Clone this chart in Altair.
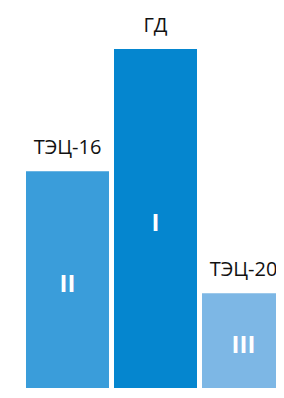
import altair as alt
import pandas as pd

names = ["ТЭЦ-16", "ГД", "ТЭЦ-20"]
values = [65, 100, 30]
ranks = ["II", "I", "III"]
colors = ["#3A9DDA", "#0586CF", "#7DB7E5"]

df = pd.DataFrame({"name": names, "value": values, "rank": ranks, "color": colors})

x = alt.X("name:N", sort=names, axis=None,
          scale=alt.Scale(range=[0, 295], paddingInner=0.0568, paddingOuter=0.2045))
y_scale = alt.Scale(domain=[0, 111.75], nice=False, zero=True, range=[390, 0])

base = alt.Chart(df).encode(x=x)

bars = base.mark_bar(cornerRadius=0).encode(
    y=alt.Y("value:Q", scale=y_scale, axis=None),
    color=alt.Color("color:N", scale=None, legend=None),
)

top_labels = base.mark_text(
    baseline="alphabetic", dy=-17, fontSize=20, font="Open Sans", color="#111111"
).encode(
    y=alt.Y("value:Q", scale=y_scale),
    text="name:N",
)

inner = base.transform_calculate(mid="datum.value / 2").mark_text(
    baseline="middle", fontSize=24, font="Open Sans", fontWeight="bold", color="white"
).encode(
    y=alt.Y("mid:Q", scale=y_scale),
    text="rank:N",
)

chart = alt.layer(bars, top_labels, inner).properties(
    width=268, height=380,
    autosize=alt.AutoSizeParams(type="none"),
    padding=0,
).configure_view(stroke=None)

chart.save("out.html", embed_options={"renderer": "svg", "actions": False})
